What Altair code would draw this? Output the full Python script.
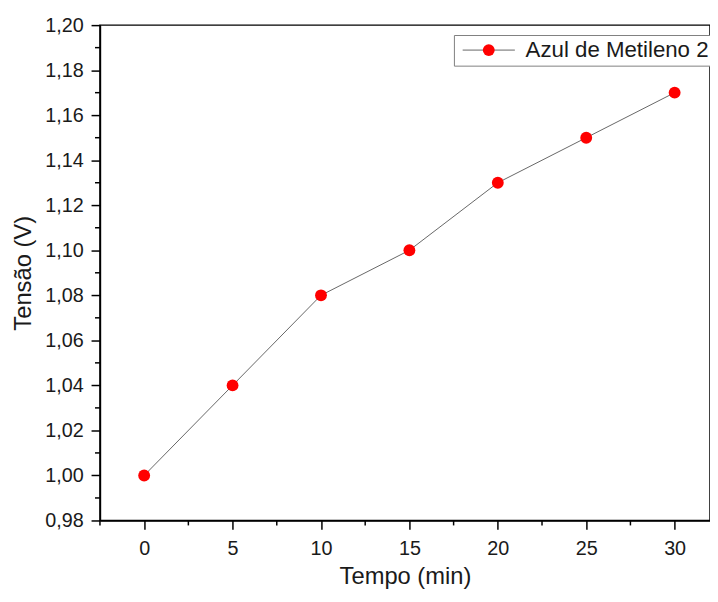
import altair as alt
import pandas as pd

# Data
times = [0, 5, 10, 15, 20, 25, 30]
voltages = [1.00, 1.04, 1.08, 1.10, 1.13, 1.15, 1.17]
series_name = "Azul de Metileno 2"

x_ticks = [0, 5, 10, 15, 20, 25, 30]
x_minor = [-2.5, 2.5, 7.5, 12.5, 17.5, 22.5, 27.5]
y_ticks = [0.98, 1.00, 1.02, 1.04, 1.06, 1.08, 1.10, 1.12, 1.14, 1.16, 1.18, 1.20]
y_minor = [0.99, 1.01, 1.03, 1.05, 1.07, 1.09, 1.11, 1.13, 1.15, 1.17, 1.19]

df = pd.DataFrame({"t": times, "v": voltages,
                   "serie": [series_name] * len(times),
                   "serie_ponto": [series_name] * len(times)})
df_xm = pd.DataFrame({"t": x_minor})
df_ym = pd.DataFrame({"v": y_minor})

W, H = 617, 501
FONT = "Liberation Sans"
TXT = "#1a1a1a"

xscale = alt.Scale(domain=[-2.5, 32], nice=False, zero=False)
yscale = alt.Scale(domain=[0.98, 1.20], nice=False, zero=False)

xaxis = alt.Axis(values=x_ticks, title="Tempo (min)", labelPadding=9, titlePadding=7)
yaxis = alt.Axis(
    values=y_ticks,
    title="Tensão (V)",
    labelExpr="replace(format(datum.value, '.2f'), '.', ',')",
    labelPadding=8,
    titlePadding=9,
)

legend_common = dict(
    title=None,
    orient="none",
    legendX=358,
    legendY=10,
    symbolSize=144,
    symbolOffset=20,
    labelOffset=26,
    labelFontSize=22.5,
    labelFont=FONT,
    labelLimit=400,
    padding=4,
)

line = alt.Chart(df).mark_line(strokeWidth=1).encode(
    x=alt.X("t:Q", scale=xscale, axis=xaxis),
    y=alt.Y("v:Q", scale=yscale, axis=yaxis),
    stroke=alt.Stroke(
        "serie:N",
        scale=alt.Scale(range=["#666666"]),
        legend=alt.Legend(
            symbolType="M-4.4,0L4.4,0",
            symbolStrokeWidth=1,
            labelColor=TXT,
            strokeColor="#808080",
            fillColor="white",
            **legend_common,
        ),
    ),
)

points = alt.Chart(df).mark_point(filled=True, size=144, opacity=1, shape="circle").encode(
    x=alt.X("t:Q", scale=xscale, axis=xaxis),
    y=alt.Y("v:Q", scale=yscale, axis=yaxis),
    fill=alt.Fill(
        "serie_ponto:N",
        scale=alt.Scale(range=["#ff0000"]),
        legend=alt.Legend(
            symbolType="circle",
            symbolStrokeWidth=0,
            labelOpacity=0,
            **legend_common,
        ),
    ),
)

x_minor_ticks = alt.Chart(df_xm).mark_rule(color="black", strokeWidth=1.5).encode(
    x=alt.X("t:Q", scale=xscale, axis=xaxis),
    y=alt.value(H),
    y2=alt.value(H + 5),
)

y_minor_ticks = alt.Chart(df_ym).mark_rule(color="black", strokeWidth=1.5).encode(
    y=alt.Y("v:Q", scale=yscale, axis=yaxis),
    x=alt.value(-5),
    x2=alt.value(0),
)

chart = (
    alt.layer(line, points, x_minor_ticks, y_minor_ticks)
    .properties(
        width=W,
        height=H,
        autosize=alt.AutoSizeParams(type="none"),
        padding={"left": 93, "top": 14, "right": 0, "bottom": 67},
    )
    .configure_view(stroke="black", strokeWidth=1.5)
    .configure_axis(
        grid=False,
        domainColor="black",
        domainWidth=1.5,
        tickColor="black",
        tickWidth=1.5,
        tickSize=9,
        labelFont=FONT,
        labelFontSize=20,
        labelColor=TXT,
        labelFlush=False,
        titleFont=FONT,
        titleFontSize=24,
        titleFontWeight="normal",
        titleColor=TXT,
    )
)

chart.save("out.html", embed_options={"renderer": "svg", "actions": False})
